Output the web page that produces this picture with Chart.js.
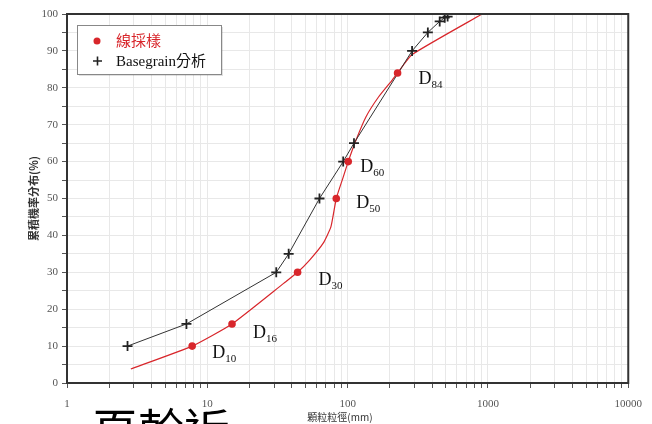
<!DOCTYPE html>
<html>
<head>
<meta charset="utf-8">
<script src="https://cdn.jsdelivr.net/npm/chart.js@4/dist/chart.umd.min.js"></script>
<style>
html,body{margin:0;padding:0;background:#fff;}
#wrap{width:652px;height:424px;position:relative;}
</style>
</head>
<body>
<div id="wrap"><canvas id="c" width="652" height="424"></canvas></div>
<script>
// ---- data ----
const sampleSizes   = [7.8, 15, 44, 83, 101, 227];        // 線採樣 D-points (mm)
const samplePercent = [10, 16, 30, 50, 60, 84];
const sampleSubs    = ['10', '16', '30', '50', '60', '84'];
const sampleCurveSizes   = [2.85, 7.8, 15, 35, 44, 53.6, 67, 76, 83, 93, 101, 115, 135, 166, 208, 227, 288, 910];
const sampleCurvePercent = [3.8, 10, 16, 27, 30, 33.3, 37.9, 42.3, 50, 55.8, 60, 65.9, 72.1, 77.5, 82.1, 84, 89, 100];
const grainSizes   = [2.7, 7.1, 31, 38, 63, 93, 111, 288, 373, 453, 492, 516];
const grainPercent = [10, 16, 30, 35, 50, 60, 65, 90, 95, 98, 99, 99.3];
const xTickDecades = [1, 10, 100, 1000, 10000];
const legendLabels = ['線採樣', 'Basegrain分析'];
const xTitle = '顆粒粒徑(mm)';
const yTitle = '累積機率分布(%)';
const captionText = '頁幹近';

const toXY = (xs, ys) => xs.map((x, i) => ({x: x, y: ys[i]}));

const RED = '#d8262b';
const BLACK = '#222';
const SERIF = '"Liberation Serif", "Noto Sans CJK TC", serif';

const extras = {
  id: 'extras',
  afterDraw(chart) {
    const ctx = chart.ctx, a = chart.chartArea;
    const xs = chart.scales.x, ys = chart.scales.y;
    ctx.save();
    // frame
    ctx.strokeStyle = '#333';
    ctx.lineWidth = 2;
    ctx.strokeRect(a.left, a.top, a.right - a.left, a.bottom - a.top);

    // D labels
    ctx.fillStyle = '#111';
    ctx.textBaseline = 'alphabetic';
    const offs = [[20, 12], [21, 14], [21, 13], [20, 9], [12, 10], [21, 11]];
    sampleSizes.forEach((v, i) => {
      const px = xs.getPixelForValue(v) + offs[i][0];
      const py = ys.getPixelForValue(samplePercent[i]) + offs[i][1];
      ctx.font = '18px ' + SERIF;
      ctx.fillText('D', px, py);
      const w = ctx.measureText('D').width;
      ctx.font = '11px ' + SERIF;
      ctx.fillText(sampleSubs[i], px + w, py + 4);
    });

    // legend box
    const lx = 77, ly = 25, lw = 144, lh = 49;
    ctx.fillStyle = 'rgba(0,0,0,0.12)';
    ctx.fillRect(lx + 2, ly + 2, lw, lh);
    ctx.fillStyle = '#fff';
    ctx.fillRect(lx, ly, lw, lh);
    ctx.strokeStyle = '#888';
    ctx.lineWidth = 1;
    ctx.strokeRect(lx + 0.5, ly + 0.5, lw, lh);
    // red marker
    ctx.fillStyle = RED;
    ctx.beginPath();
    ctx.arc(97, 41, 3.5, 0, Math.PI * 2);
    ctx.fill();
    // cross
    ctx.strokeStyle = BLACK;
    ctx.lineWidth = 1.6;
    ctx.beginPath();
    ctx.moveTo(93, 61); ctx.lineTo(102, 61);
    ctx.moveTo(97.5, 56.5); ctx.lineTo(97.5, 65.5);
    ctx.stroke();
    ctx.font = '15px ' + SERIF;
    ctx.textBaseline = 'middle';
    ctx.fillStyle = RED;
    ctx.fillText(legendLabels[0], 116, 42);
    ctx.fillStyle = '#111';
    ctx.fillText(legendLabels[1], 116, 62);

    // axis titles
    ctx.fillStyle = '#333';
    ctx.textAlign = 'center';
    ctx.textBaseline = 'middle';
    ctx.font = '10px "Noto Sans CJK TC", sans-serif';
    ctx.fillText(xTitle, 340, 417);
    ctx.save();
    ctx.font = 'bold 11px "Noto Sans CJK TC", sans-serif';
    ctx.translate(34, (a.top + a.bottom) / 2);
    ctx.rotate(-Math.PI / 2);
    ctx.fillText(yTitle, 0, 0);
    ctx.restore();

    // partially visible caption below the chart
    ctx.fillStyle = '#000';
    ctx.font = '46px "Noto Sans CJK TC", sans-serif';
    ctx.textAlign = 'left';
    ctx.textBaseline = 'top';
    ctx.fillText(captionText, 92, 407);
    ctx.restore();
  }
};

new Chart(document.getElementById('c'), {
  type: 'scatter',
  data: {
    datasets: [
      {
        label: legendLabels[1],
        data: toXY(grainSizes, grainPercent),
        showLine: true,
        borderColor: '#333',
        borderWidth: 1,
        tension: 0,
        pointStyle: 'cross',
        pointRadius: 5,
        pointBorderWidth: 1.8,
        pointBorderColor: BLACK,
        order: 1
      },
      {
        label: 'curve',
        data: toXY(sampleCurveSizes, sampleCurvePercent),
        showLine: true,
        borderColor: RED,
        borderWidth: 1.2,
        tension: 0.15,
        pointRadius: 0,
        order: 2
      },
      {
        label: legendLabels[0],
        data: toXY(sampleSizes, samplePercent),
        showLine: false,
        pointStyle: 'circle',
        pointRadius: 3.8,
        pointBackgroundColor: RED,
        pointBorderColor: RED,
        pointBorderWidth: 0,
        order: 0
      }
    ]
  },
  options: {
    responsive: false,
    animation: false,
    devicePixelRatio: 1,
    layout: {padding: {top: 14, right: 16, left: 0, bottom: 0}},
    plugins: {legend: {display: false}, tooltip: {enabled: false}},
    scales: {
      x: {
        type: 'logarithmic',
        min: 1, max: 10000,
        afterFit(s) { s.height = 41; },
        afterBuildTicks(s) {
          const t = [];
          xTickDecades.forEach((d, i) => {
            if (i === xTickDecades.length - 1) { t.push({value: d}); return; }
            for (let m = 1; m <= 9; m++) t.push({value: d * m});
          });
          s.ticks = t;
        },
        grid: {
          color: '#e8e8e8', lineWidth: 1,
          drawTicks: true, tickLength: 5, tickColor: '#555'
        },
        border: {color: '#333', width: 2},
        ticks: {
          autoSkip: false, maxRotation: 0, padding: 10,
          color: '#555',
          font: {family: SERIF, size: 11},
          callback(v) { return xTickDecades.includes(v) ? String(v) : ''; }
        }
      },
      y: {
        type: 'linear',
        min: 0, max: 100,
        afterFit(s) { s.width = 67; },
        grid: {
          color: '#e8e8e8', lineWidth: 1,
          drawTicks: true, tickLength: 5, tickColor: '#555'
        },
        border: {color: '#333', width: 2},
        ticks: {
          stepSize: 5, padding: 4,
          color: '#555',
          font: {family: SERIF, size: 11},
          callback(v) { return v % 10 === 0 ? String(v) : ''; }
        }
      }
    }
  },
  plugins: [extras]
});
</script>
</body>
</html>
